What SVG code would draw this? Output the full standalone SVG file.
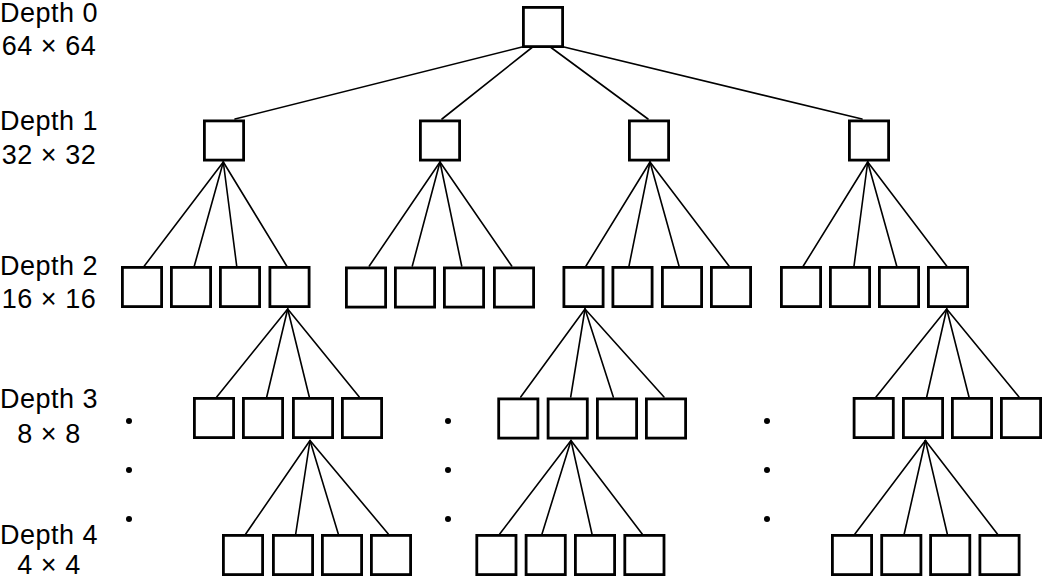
<svg xmlns="http://www.w3.org/2000/svg" width="1044" height="580" viewBox="0 0 1044 580">
<style>
.box{fill:#fff;stroke:#000;stroke-width:2.8}
.c line{stroke:#000;stroke-width:1.6;stroke-linecap:round}
.lbl{font-family:"Liberation Sans",Arial,Helvetica,sans-serif;font-size:27px;fill:#000;text-anchor:middle;letter-spacing:0.5px}
.dot{fill:#000}
</style>
<defs>
<rect id="b" class="box" x="1.4" y="1.4" width="39.2" height="39.2" fill="#fff" stroke="#000" stroke-width="2.8"/>
</defs>
<rect width="1044" height="580" fill="#fff"/>
<g id="labels">
<text class="lbl" x="49" y="22">Depth 0</text>
<text class="lbl" x="49" y="55">64 × 64</text>
<text class="lbl" x="49" y="130">Depth 1</text>
<text class="lbl" x="49" y="164">32 × 32</text>
<text class="lbl" x="49" y="275">Depth 2</text>
<text class="lbl" x="49" y="308">16 × 16</text>
<text class="lbl" x="49" y="408">Depth 3</text>
<text class="lbl" x="49" y="443">8 × 8</text>
<text class="lbl" x="49" y="544">Depth 4</text>
<text class="lbl" x="49" y="574">4 × 4</text>
</g>
<g id="connectors" class="c">
<line x1="522" y1="47" x2="235" y2="119"/>
<line x1="532" y1="47.5" x2="442" y2="119"/>
<line x1="551" y1="47.5" x2="648" y2="119"/>
<line x1="564" y1="47" x2="862" y2="119"/>
<line x1="223.3" y1="162" x2="144.3" y2="266"/>
<line x1="223.3" y1="162" x2="194.3" y2="266"/>
<line x1="223.3" y1="162" x2="236.7" y2="266"/>
<line x1="223.3" y1="162" x2="286.7" y2="266"/>
<line x1="440" y1="162" x2="369.3" y2="266"/>
<line x1="440" y1="162" x2="412.3" y2="266"/>
<line x1="440" y1="162" x2="461.7" y2="266"/>
<line x1="440" y1="162" x2="511.7" y2="266"/>
<line x1="650" y1="162" x2="586" y2="266"/>
<line x1="650" y1="162" x2="629" y2="266"/>
<line x1="650" y1="162" x2="679" y2="266"/>
<line x1="650" y1="162" x2="729" y2="266"/>
<line x1="867.7" y1="162" x2="803.3" y2="266"/>
<line x1="867.7" y1="162" x2="854" y2="266"/>
<line x1="867.7" y1="162" x2="896.7" y2="266"/>
<line x1="867.7" y1="162" x2="946.7" y2="266"/>
<line x1="287.7" y1="309" x2="216.7" y2="397"/>
<line x1="287.7" y1="309" x2="266.7" y2="397"/>
<line x1="287.7" y1="309" x2="309.3" y2="397"/>
<line x1="287.7" y1="309" x2="359.3" y2="397"/>
<line x1="585" y1="309" x2="520.7" y2="397"/>
<line x1="585" y1="309" x2="570.7" y2="397"/>
<line x1="585" y1="309" x2="613.3" y2="397"/>
<line x1="585" y1="309" x2="664" y2="397"/>
<line x1="946.7" y1="309" x2="876" y2="397"/>
<line x1="946.7" y1="309" x2="926.7" y2="397"/>
<line x1="946.7" y1="309" x2="969" y2="397"/>
<line x1="946.7" y1="309" x2="1019" y2="397"/>
<line x1="310" y1="440.5" x2="245.7" y2="534"/>
<line x1="310" y1="440.5" x2="295.7" y2="534"/>
<line x1="310" y1="440.5" x2="338.3" y2="534"/>
<line x1="310" y1="440.5" x2="388.3" y2="534"/>
<line x1="571" y1="440.5" x2="499.7" y2="534"/>
<line x1="571" y1="440.5" x2="542" y2="534"/>
<line x1="571" y1="440.5" x2="592" y2="534"/>
<line x1="571" y1="440.5" x2="642.2" y2="534"/>
<line x1="925.4" y1="440.5" x2="854.9" y2="534"/>
<line x1="925.4" y1="440.5" x2="904.2" y2="534"/>
<line x1="925.4" y1="440.5" x2="947.3" y2="534"/>
<line x1="925.4" y1="440.5" x2="997.4" y2="534"/>
</g>
<g id="dots">
<circle class="dot" cx="129" cy="421" r="3"/>
<circle class="dot" cx="129" cy="470" r="3"/>
<circle class="dot" cx="129" cy="519" r="3"/>
<circle class="dot" cx="448" cy="421" r="3"/>
<circle class="dot" cx="448" cy="470" r="3"/>
<circle class="dot" cx="448" cy="519" r="3"/>
<circle class="dot" cx="767" cy="421" r="3"/>
<circle class="dot" cx="767" cy="470" r="3"/>
<circle class="dot" cx="767" cy="519" r="3"/>
</g>
<g id="nodes">
<g id="d0"><use href="#b" x="522" y="6"/></g>
<g id="d1-1"><use href="#b" x="203" y="119.5"/></g>
<g id="d1-2"><use href="#b" x="419" y="119.5"/></g>
<g id="d1-3"><use href="#b" x="628" y="119.5"/></g>
<g id="d1-4"><use href="#b" x="848" y="119.5"/></g>
<g id="d2-1"><use href="#b" x="121" y="266"/></g>
<g id="d2-2"><use href="#b" x="170" y="266"/></g>
<g id="d2-3"><use href="#b" x="219" y="266"/></g>
<g id="d2-4"><use href="#b" x="268.5" y="266"/></g>
<g id="d2-5"><use href="#b" x="345" y="266.5"/></g>
<g id="d2-6"><use href="#b" x="394" y="266.5"/></g>
<g id="d2-7"><use href="#b" x="443" y="266.5"/></g>
<g id="d2-8"><use href="#b" x="493" y="266.5"/></g>
<g id="d2-9"><use href="#b" x="562.5" y="266"/></g>
<g id="d2-10"><use href="#b" x="611.5" y="266"/></g>
<g id="d2-11"><use href="#b" x="661" y="266"/></g>
<g id="d2-12"><use href="#b" x="710" y="266"/></g>
<g id="d2-13"><use href="#b" x="780" y="266"/></g>
<g id="d2-14"><use href="#b" x="829" y="266"/></g>
<g id="d2-15"><use href="#b" x="878" y="266"/></g>
<g id="d2-16"><use href="#b" x="927" y="266"/></g>
<g id="d3-1"><use href="#b" x="193" y="397"/></g>
<g id="d3-2"><use href="#b" x="242" y="397"/></g>
<g id="d3-3"><use href="#b" x="292" y="397"/></g>
<g id="d3-4"><use href="#b" x="341" y="397"/></g>
<g id="d3-5"><use href="#b" x="497.3" y="397.5"/></g>
<g id="d3-6"><use href="#b" x="546.7" y="397.5"/></g>
<g id="d3-7"><use href="#b" x="596" y="397.5"/></g>
<g id="d3-8"><use href="#b" x="645" y="397.5"/></g>
<g id="d3-9"><use href="#b" x="852.7" y="397"/></g>
<g id="d3-10"><use href="#b" x="902" y="397"/></g>
<g id="d3-11"><use href="#b" x="951" y="397"/></g>
<g id="d3-12"><use href="#b" x="1000" y="397"/></g>
<g id="d4-1"><use href="#b" x="222" y="534"/></g>
<g id="d4-2"><use href="#b" x="272" y="534"/></g>
<g id="d4-3"><use href="#b" x="321" y="534"/></g>
<g id="d4-4"><use href="#b" x="370" y="534"/></g>
<g id="d4-5"><use href="#b" x="475.4" y="534"/></g>
<g id="d4-6"><use href="#b" x="524.7" y="534"/></g>
<g id="d4-7"><use href="#b" x="574" y="534"/></g>
<g id="d4-8"><use href="#b" x="623.4" y="534"/></g>
<g id="d4-9"><use href="#b" x="831" y="534"/></g>
<g id="d4-10"><use href="#b" x="880.3" y="534"/></g>
<g id="d4-11"><use href="#b" x="929.2" y="534"/></g>
<g id="d4-12"><use href="#b" x="978.5" y="534"/></g>
</g>
</svg>
